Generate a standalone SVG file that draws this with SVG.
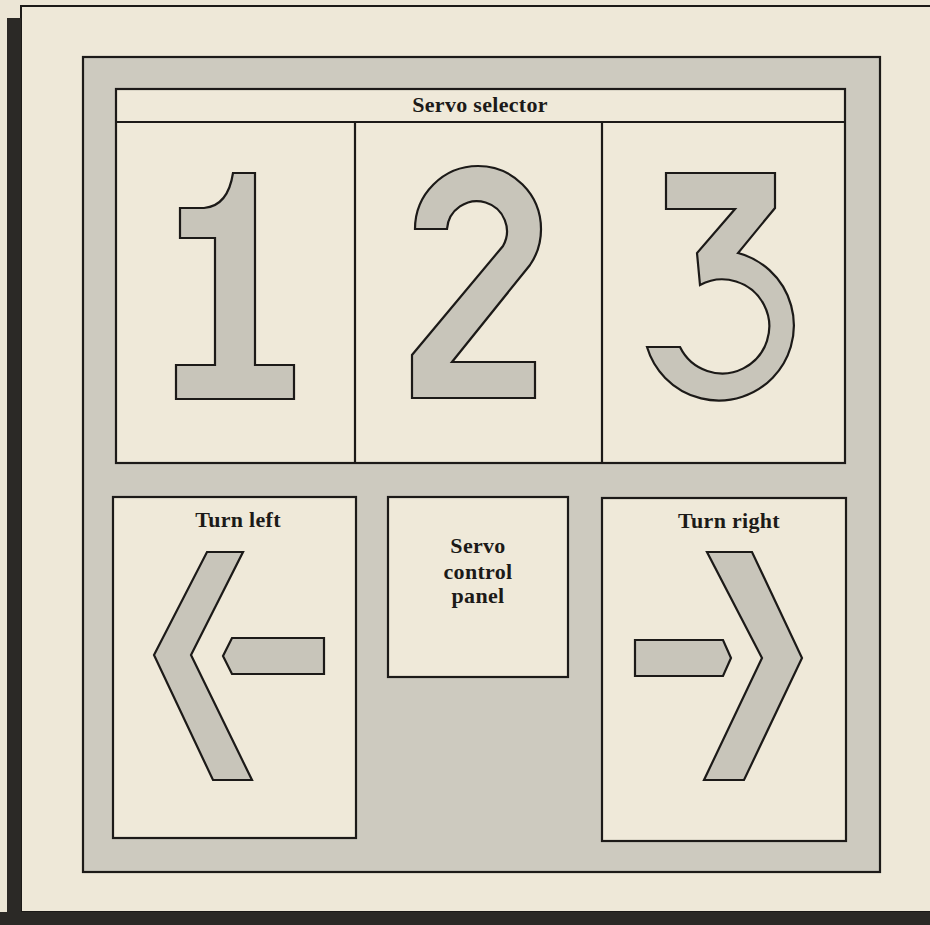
<svg xmlns="http://www.w3.org/2000/svg" width="930" height="925" viewBox="0 0 930 925">
<style>
.ln{stroke:#1c1a18;stroke-width:2.2;stroke-linejoin:miter}
.box{fill:#efe9d9}
.sh{fill:#c8c5ba}
.lbl{font-family:"Liberation Serif","Times New Roman",serif;font-weight:bold;font-size:22px;fill:#1c1a18;text-anchor:middle;letter-spacing:0.3px}
</style>
<rect x="0" y="0" width="930" height="925" fill="#ece6d6"/>
<g id="page-frame">
<rect x="21" y="6" width="915" height="906" fill="#eee8d8" stroke="#1c1a18" stroke-width="2"/>
<rect x="7" y="18" width="14" height="907" fill="#2b2926"/>
<rect x="0" y="912" width="930" height="13" fill="#2b2926"/>
</g>
<g id="panel">
<rect class="ln" x="83" y="57" width="797" height="815" fill="#cdcabf"/>
</g>
<g id="servo-selector">
<rect class="ln box" x="116" y="89" width="729" height="374"/>
<line class="ln" x1="116" y1="122" x2="845" y2="122"/>
<text class="lbl" x="480" y="112">Servo selector</text>
</g>
<g id="selector-1">
<line class="ln" x1="355" y1="122" x2="355" y2="463"/>
<path class="ln sh" d="M255,173 L255,365 L294,365 L294,399 L176,399 L176,365 L215,365 L215,238 L180,238 L180,208 L204,208 Q228,206 233,173 Z"/>
</g>
<g id="selector-2">
<line class="ln" x1="602" y1="122" x2="602" y2="463"/>
<path class="ln sh" d="M415,229 A63,63 0 0 1 541,229 A63,63 0 0 1 530,265 L452,362 L535,362 L535,398 L412,398 L412,355 L503,246 A30,30 0 1 0 447,229 Z"/>
</g>
<g id="selector-3">
<path class="ln sh" d="M666,173 L775,173 L775,208 L738,253 A75,75 0 1 1 647,347 L680,347 A47,47 0 1 0 700,285 L697,253 L735,209 L666,209 Z"/>
</g>
<g id="turn-left">
<rect class="ln box" x="113" y="497" width="243" height="341"/>
<text class="lbl" x="238" y="527">Turn left</text>
<polygon class="ln sh" points="207,552 243,552 191,655 252,780 213,780 154,655"/>
<polygon class="ln sh" points="223,656 232,638 324,638 324,674 232,674"/>
</g>
<g id="servo-control-panel">
<rect class="ln box" x="388" y="497" width="180" height="180"/>
<text class="lbl" x="478" y="553">Servo</text>
<text class="lbl" x="478" y="579">control</text>
<text class="lbl" x="478" y="603">panel</text>
</g>
<g id="turn-right">
<rect class="ln box" x="602" y="498" width="244" height="343"/>
<text class="lbl" x="729" y="528">Turn right</text>
<polygon class="ln sh" points="707,552 752,552 802,658 744,780 704,780 762,658"/>
<polygon class="ln sh" points="635,640 723,640 731,658 723,676 635,676"/>
</g>
<g id="connectors"/>
</svg>
